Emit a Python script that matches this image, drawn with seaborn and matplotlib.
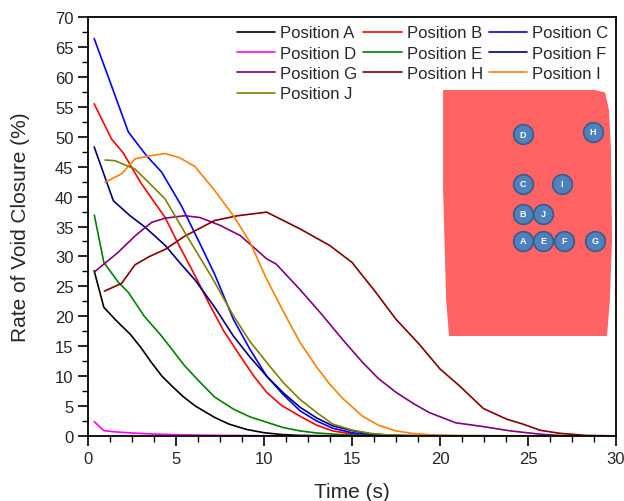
import matplotlib
matplotlib.use("Agg")
import matplotlib.pyplot as plt
from matplotlib.patches import Polygon
from matplotlib.ticker import MultipleLocator
import pandas as pd
import seaborn as sns

# values (time in s, closure rate in %)
time_a = [0.35, 0.9, 1.6, 2.4, 3.0, 3.6, 4.2, 4.75, 5.4, 6.1, 7.2, 8.0, 9.0, 10.0, 11.0, 12.0, 14.0, 30.0]
rate_a = [27.6, 21.5, 19.3, 17.0, 14.8, 12.3, 10.0, 8.4, 6.6, 5.0, 3.1, 2.0, 1.1, 0.55, 0.25, 0.1, 0.03, 0.0]

time_b = [0.35, 1.34, 2.0, 3.0, 4.38, 5.2, 6.08, 6.9, 7.7, 8.64, 9.4, 10.15, 11.0, 12.05, 13.0, 13.9, 15.0, 16.0, 17.5, 30.0]
rate_b = [55.5, 49.6, 47.3, 42.3, 36.5, 31.7, 26.8, 22.0, 17.6, 13.4, 10.1, 7.3, 5.1, 3.3, 1.8, 0.85, 0.35, 0.12, 0.03, 0.0]

time_c = [0.35, 1.3, 2.29, 3.33, 4.18, 5.3, 6.3, 7.2, 8.26, 9.2, 10.15, 11.1, 12.05, 13.0, 13.9, 15.0, 16.0, 17.5, 30.0]
rate_c = [66.4, 58.8, 50.8, 46.8, 44.1, 38.5, 32.5, 27.0, 19.5, 14.5, 10.0, 6.9, 4.2, 2.5, 1.3, 0.55, 0.2, 0.05, 0.0]

time_d = [0.35, 0.9, 1.5, 2.5, 3.5, 5.0, 7.0, 10.0, 14.0, 30.0]
rate_d = [2.4, 0.9, 0.7, 0.5, 0.35, 0.22, 0.12, 0.05, 0.01, 0.0]

time_e = [0.36, 0.9, 1.72, 2.29, 3.2, 4.18, 5.5, 6.36, 7.2, 8.26, 9.2, 10.15, 11.1, 12.05, 13.0, 14.0, 15.5, 17.0, 30.0]
rate_e = [36.9, 29.0, 25.7, 24.0, 20.0, 16.7, 11.7, 9.0, 6.5, 4.5, 3.2, 2.3, 1.4, 0.85, 0.5, 0.3, 0.12, 0.04, 0.0]

time_f = [0.35, 1.44, 2.39, 3.24, 4.4, 5.2, 6.1, 7.2, 8.26, 9.2, 10.15, 11.1, 12.05, 13.0, 13.9, 15.0, 16.0, 17.0, 18.5, 30.0]
rate_f = [48.3, 39.3, 36.8, 34.9, 31.8, 29.0, 26.0, 21.5, 16.7, 13.2, 10.0, 7.2, 4.8, 3.0, 1.7, 0.9, 0.4, 0.15, 0.04, 0.0]

time_g = [0.36, 1.72, 2.7, 3.62, 4.4, 5.5, 6.36, 7.5, 8.64, 9.5, 10.15, 10.7, 12.0, 13.2, 14.5, 15.6, 16.5,
          17.5, 18.5, 19.4, 20.9, 22.4, 24.0, 25.7, 27.0, 30.0]
rate_g = [27.4, 30.7, 33.5, 35.7, 36.4, 36.8, 36.5, 35.2, 33.5, 31.3, 29.6, 28.7, 24.6, 20.6, 16.0, 12.3, 9.6,
          7.3, 5.4, 3.9, 2.2, 1.6, 0.85, 0.3, 0.05, 0.0]

time_h = [0.93, 1.91, 2.67, 3.5, 4.4, 5.5, 7.2, 8.5, 10.15, 12.05, 13.75, 15.0, 16.3, 17.5, 18.8, 20.0, 21.1,
          22.46, 23.8, 24.7, 25.7, 26.8, 28.3, 30.0]
rate_h = [24.2, 25.5, 28.6, 30.0, 31.2, 33.4, 36.0, 36.8, 37.4, 34.6, 31.8, 29.0, 24.2, 19.5, 15.4, 11.2, 8.4,
          4.6, 2.8, 2.0, 0.95, 0.45, 0.1, 0.02]

time_i = [0.97, 1.91, 2.67, 3.5, 4.38, 5.2, 6.08, 7.2, 8.26, 9.2, 10.15, 11.1, 12.05, 13.0, 13.75, 14.5, 15.6,
          16.5, 17.5, 18.5, 19.5, 21.0, 30.0]
rate_i = [42.4, 43.8, 46.3, 46.8, 47.2, 46.5, 45.0, 41.0, 36.8, 32.4, 26.2, 20.8, 15.6, 11.5, 8.6, 6.2, 3.3,
          1.8, 0.85, 0.4, 0.2, 0.05, 0.0]

time_j = [0.97, 1.53, 2.67, 3.5, 4.38, 5.5, 7.0, 8.26, 9.2, 10.15, 11.1, 12.05, 13.0, 13.9, 15.0, 16.0, 17.0, 18.0, 30.0]
rate_j = [46.1, 46.0, 44.6, 42.2, 39.6, 34.0, 26.7, 20.1, 15.8, 12.3, 8.9, 6.1, 3.9, 2.0, 1.0, 0.45, 0.2, 0.07, 0.0]

names = ["Position A", "Position B", "Position C", "Position D", "Position E",
         "Position F", "Position G", "Position H", "Position I", "Position J"]
times = [time_a, time_b, time_c, time_d, time_e, time_f, time_g, time_h, time_i, time_j]
rates = [rate_a, rate_b, rate_c, rate_d, rate_e, rate_f, rate_g, rate_h, rate_i, rate_j]
colors = ["#000000", "#ff0000", "#0000ff", "#ff00ff", "#008000",
          "#000080", "#800080", "#800000", "#ff8000", "#808000"]

# sensor layout shown in the inset (inset axes fraction)
sensor_labels = ["D", "H", "C", "I", "B", "J", "A", "E", "F", "G"]
sensor_x = [0.478, 0.887, 0.478, 0.706, 0.478, 0.598, 0.478, 0.598, 0.719, 0.901]
sensor_y = [0.821, 0.830, 0.618, 0.618, 0.496, 0.496, 0.387, 0.387, 0.387, 0.387]
plate_x = [0.012, 0.90, 0.96, 0.982, 0.994, 1.0, 0.988, 0.971, 0.047, 0.030, 0.012]
plate_y = [1.0, 1.0, 0.99, 0.92, 0.76, 0.39, 0.15, 0.0, 0.0, 0.15, 0.6]

sns.set_style("ticks")
plt.rcParams['font.family'] = ['Liberation Sans', 'DejaVu Sans']

fig = plt.figure(figsize=(6.24, 5.02), dpi=100)
ax = fig.add_axes([88 / 624, 1 - 437 / 502, 528 / 624, 419 / 502])

for name, t, r, c in zip(names, times, rates, colors):
    df = pd.DataFrame({"Time": t, "Rate": r})
    sns.lineplot(data=df, x="Time", y="Rate", color=c, linewidth=1.2, label=name,
                 estimator=None, sort=False, ax=ax)

ax.set_xlim(0, 30)
ax.set_ylim(0, 70)
ax.xaxis.set_major_locator(MultipleLocator(5))
ax.xaxis.set_minor_locator(MultipleLocator(1.25))
ax.yaxis.set_major_locator(MultipleLocator(5))
ax.yaxis.set_minor_locator(MultipleLocator(2.5))
ax.tick_params(which="major", direction="out", length=7, width=1.2, labelsize=12, color="black")
ax.tick_params(which="minor", direction="out", length=4, width=1.0, color="black")
for s in ax.spines.values():
    s.set_linewidth(1.3)
    s.set_color("black")
ax.set_xlabel("Time (s)", fontsize=15, labelpad=12)
ax.set_ylabel("Rate of Void Closure (%)", fontsize=15, labelpad=18)

handles, labels = ax.get_legend_handles_labels()
order = [0, 3, 6, 9, 1, 4, 7, 2, 5, 8]
ax.legend([handles[k] for k in order], [labels[k] for k in order], ncol=3, loc="upper right",
          bbox_to_anchor=(0.985, 0.98), frameon=False, fontsize=12, handlelength=2.3,
          handletextpad=0.3, columnspacing=0.35, labelspacing=0.32, borderpad=0, borderaxespad=0)

# inset sketch of the plate with sensor positions
ins = fig.add_axes([441 / 624, 1 - 337 / 502, 171 / 624, 246 / 502])
ins.set_xlim(0, 1)
ins.set_ylim(0, 1)
ins.axis("off")
ins.add_patch(Polygon(list(zip(plate_x, plate_y)), closed=True, facecolor="#ff6363", edgecolor="none"))
ins.scatter(sensor_x, sensor_y, s=200, color="#4f81bd", edgecolor="#385d8a", linewidth=1.2, zorder=3)
for lab, x, y in zip(sensor_labels, sensor_x, sensor_y):
    ins.text(x, y, lab, color="white", fontsize=6.5, fontweight="bold", ha="center", va="center", zorder=4)

fig.savefig("out.png", dpi=100)
